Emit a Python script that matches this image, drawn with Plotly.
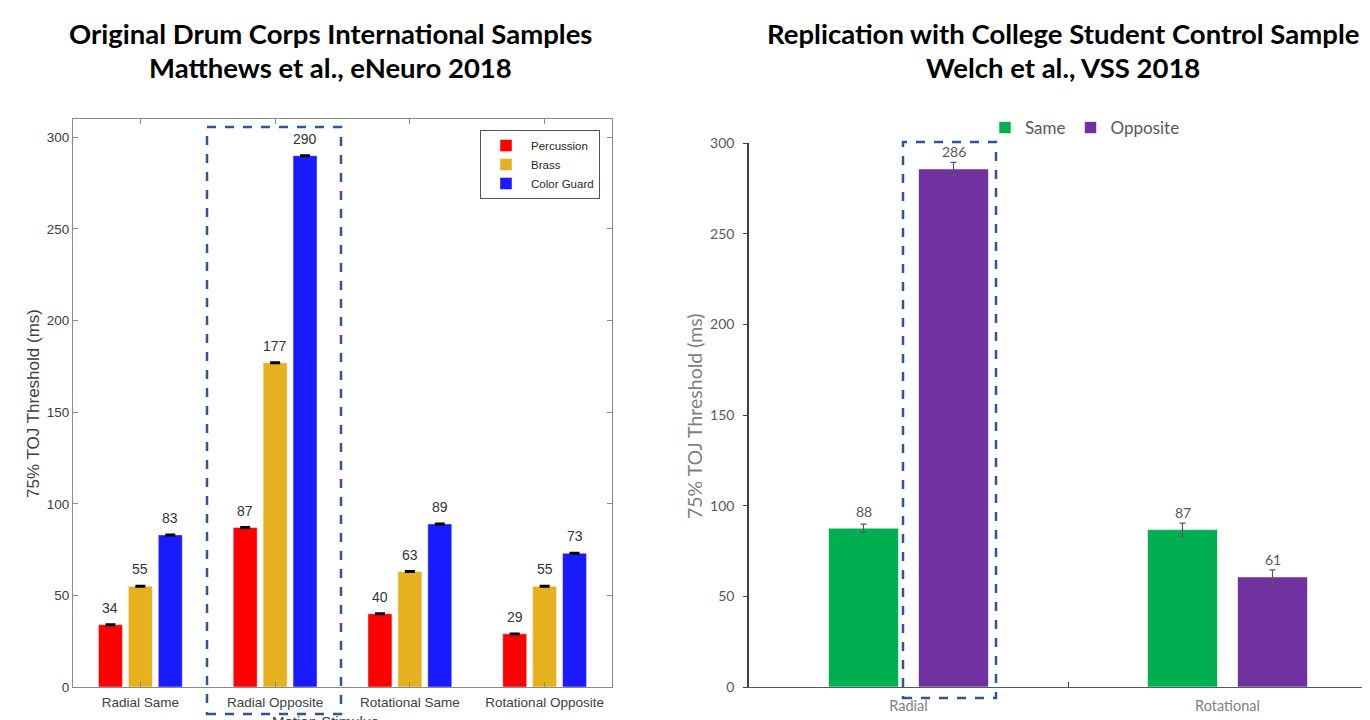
import plotly.graph_objects as go

# page body has an 8px margin; the figure is sized so it ends at the window edge
PAGE_OFF = 8
W, H = 1370 - PAGE_OFF, 720 - PAGE_OFF

# ---------------- data ----------------
left_categories = ["Radial Same", "Radial Opposite", "Rotational Same", "Rotational Opposite"]
left_series = ["Percussion", "Brass", "Color Guard"]
percussion = [34, 87, 40, 29]
brass = [55, 177, 63, 55]
color_guard = [83, 290, 89, 73]
left_err = [0.4, 0.4, 0.4]
left_colors = ["#FF0000", "#E6B11E", "#1A1AFF"]

right_categories = ["Radial", "Rotational"]
right_series = ["Same", "Opposite"]
same = [87.6, 86.8]
opposite = [285.7, 60.7]
same_err = [2.2, 3.6]
opposite_err = [3.6, 3.9]
right_colors = ["#00B050", "#7030A0"]

left_yticks = [0, 50, 100, 150, 200, 250, 300]
right_yticks = [0, 50, 100, 150, 200, 250, 300]

# ---------------- layout helpers (window pixel -> paper) ----------------
def px(x):
    return (x - PAGE_OFF) / W

def py(y):
    return 1 - (y - PAGE_OFF) / H

L_X0, L_X1, L_Y0, L_Y1 = 73, 612, 687, 119
R_X0, R_X1, R_Y0, R_Y1 = 749, 1370, 687, 143
r_cat_px = 319.0

fig = go.Figure()

# left bars
left_vals = [percussion, brass, color_guard]
l_width = 0.178
l_slot = 0.222
for j, (name, vals, col) in enumerate(zip(left_series, left_vals, left_colors)):
    off = -1.5 * l_slot + (l_slot - l_width) / 2 + j * l_slot
    fig.add_trace(go.Bar(
        x=left_categories, y=vals, name=name,
        width=l_width, offset=off,
        marker=dict(color=col, line=dict(color="rgba(255,255,255,0.45)", width=1)),
        error_y=dict(type="data", array=[left_err[j]] * len(vals), color="black",
                     thickness=1.5, width=5),
        xaxis="x", yaxis="y", legend="legend",
    ))
    for i, v in enumerate(vals):
        fig.add_annotation(x=i + off + l_width / 2, y=v, xref="x", yref="y",
                           xanchor="center", yanchor="middle",
                           text=str(v), showarrow=False, yshift=17,
                           font=dict(family="Liberation Sans, Arial", size=14, color="#333333"))

# right bars
right_vals = [same, opposite]
right_errs = [same_err, opposite_err]
r_width = 70 / r_cat_px
r_slot = 90 / r_cat_px
for j, (name, vals, errs, col) in enumerate(zip(right_series, right_vals, right_errs, right_colors)):
    off = -r_slot + (r_slot - r_width) / 2 + j * r_slot
    fig.add_trace(go.Bar(
        x=right_categories, y=vals, name=name,
        width=r_width, offset=off,
        marker=dict(color=col, line=dict(color="rgba(255,255,255,0.6)", width=1)),
        error_y=dict(type="data", array=errs, color="#595959", thickness=1.2, width=3),
        xaxis="x2", yaxis="y2", legend="legend2",
    ))
    for i, v in enumerate(vals):
        fig.add_annotation(x=i + off + r_width / 2, y=v, xref="x2", yref="y2",
                           xanchor="center", yanchor="middle",
                           text=f"{v:.0f}", showarrow=False, yshift=17,
                           font=dict(family="Lato, Open Sans", size=14, color="#595959"))

left_font = dict(family="Liberation Sans, Arial", size=13.5, color="#404040")
right_font = dict(family="Lato, Open Sans", size=14, color="#595959")

fig.update_layout(
    width=W, height=H,
    margin=dict(l=0, r=0, t=0, b=0),
    paper_bgcolor="white", plot_bgcolor="white",
    barmode="overlay",
    xaxis=dict(domain=[px(L_X0), px(L_X1)], anchor="y", type="category",
               range=[-0.5, 3.5], showline=True, linecolor="#8a8a8a", linewidth=1,
               mirror="ticks", ticks="inside", ticklen=5, tickcolor="#8a8a8a",
               tickfont=left_font, ticklabelstandoff=3,
               showgrid=False, zeroline=False, automargin=False),
    yaxis=dict(domain=[py(L_Y0), py(L_Y1)], anchor="x", range=[0, 310],
               tickvals=left_yticks, showline=True, linecolor="#8a8a8a", linewidth=1,
               mirror="ticks", ticks="inside", ticklen=5, tickcolor="#8a8a8a",
               tickfont=left_font, showgrid=False, zeroline=False, automargin=False),
    xaxis2=dict(domain=[px(R_X0), px(R_X1)], anchor="y2", type="category",
                range=[-0.5, -0.5 + (R_X1 - R_X0) / r_cat_px],
                showline=True, linecolor="#595959", linewidth=1,
                ticks="inside", tickson="boundaries", ticklen=5, tickcolor="#404040",
                tickfont=dict(family="Lato, Open Sans", size=14.5, color="#7f7f7f"),
                ticklabelstandoff=6,
                showgrid=False, zeroline=False, automargin=False),
    yaxis2=dict(domain=[py(R_Y0), py(R_Y1)], anchor="x2", range=[0, 300],
                tickvals=right_yticks, showline=True, linecolor="#404040", linewidth=1.5,
                ticks="outside", ticklen=4, tickcolor="#404040", ticklabelstandoff=6,
                tickfont=right_font, showgrid=False, zeroline=False, automargin=False),
    legend=dict(x=px(480), y=py(130), xanchor="left", yanchor="top",
                bordercolor="#555555", borderwidth=1, bgcolor="white",
                font=dict(family="Liberation Sans, Arial", size=11.5, color="#262626"),
                tracegroupgap=0, itemwidth=40),
    legend2=dict(x=px(985), y=py(110), xanchor="left", yanchor="top",
                 orientation="h", bgcolor="rgba(0,0,0,0)",
                 font=dict(family="Lato, Open Sans", size=17, color="#595959")),
)

# titles
title_font = dict(family="Lato, Open Sans", size=27.5, color="black")

def add_title(x, y, text):
    fig.add_annotation(x=px(x), y=py(y), xref="paper", yref="paper", showarrow=False,
                       xanchor="center", yanchor="middle", text=f"<b>{text}</b>", font=title_font)

add_title(330, 33, "Original Drum Corps International Samples")
add_title(330, 68, "Matthews et al., eNeuro 2018")
add_title(1063, 33, "Replication with College Student Control Sample")
add_title(1063, 68, "Welch et al., VSS 2018")

# axis titles
fig.add_annotation(x=px(33), y=py(404), xref="paper", yref="paper", showarrow=False,
                   xanchor="center", yanchor="middle",
                   text="75% TOJ Threshold (ms)", textangle=-90,
                   font=dict(family="Liberation Sans, Arial", size=17, color="#404040"))
fig.add_annotation(x=px(695), y=py(416), xref="paper", yref="paper", showarrow=False,
                   xanchor="center", yanchor="middle",
                   text="75% TOJ Threshold (ms)", textangle=-90,
                   font=dict(family="Lato, Open Sans", size=19.5, color="#7f7f7f"))
fig.add_annotation(x=px(325), y=py(711), xref="paper", yref="paper", showarrow=False,
                   xanchor="center", yanchor="top", text="Motion Stimulus",
                   font=dict(family="Liberation Sans, Arial", size=15, color="#404040"))

# dashed highlight boxes
fig.add_shape(type="rect", xref="paper", yref="paper",
              x0=px(207), x1=px(341), y0=py(714), y1=py(127),
              line=dict(color="#2F5597", width=2.5, dash="dash"))
fig.add_shape(type="rect", xref="paper", yref="paper",
              x0=px(903), x1=px(996), y0=py(698), y1=py(142),
              line=dict(color="#2F5597", width=2.5, dash="dash"))

fig.write_html("out.html")
